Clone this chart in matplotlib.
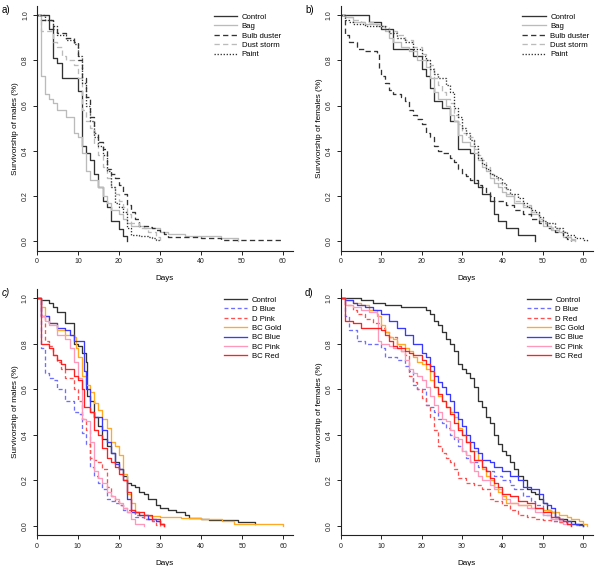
import matplotlib.pyplot as plt

plt.rcParams['font.family'] = ['Liberation Sans', 'DejaVu Sans']

# ---- panel a: males, dust types ----
a_control_t = [0, 3, 4, 5, 6, 10, 11, 12, 13, 14, 15, 16, 17, 18, 20, 21, 22]
a_control_s = [1.0, 0.94, 0.81, 0.79, 0.72, 0.665, 0.42, 0.39, 0.36, 0.30, 0.24, 0.18, 0.15, 0.09, 0.055, 0.025, 0.0]
a_bag_t = [0, 1, 2, 3, 4, 5, 7, 9, 10, 11, 12, 13, 15, 16, 17, 18, 20, 21, 22, 23, 26, 30, 32, 36, 45, 49]
a_bag_s = [1.0, 0.73, 0.65, 0.63, 0.61, 0.58, 0.55, 0.48, 0.46, 0.39, 0.31, 0.27, 0.24, 0.20, 0.17, 0.14, 0.12, 0.10, 0.08, 0.07, 0.06, 0.04, 0.035, 0.025, 0.015, 0.0]
a_bulb_t = [0, 1, 4, 5, 7, 9, 10, 11, 12, 13, 14, 15, 16, 17, 18, 19, 20, 21, 22, 23, 24, 25, 27, 28, 29, 30, 31, 32, 40, 45, 60]
a_bulb_s = [1.0, 0.98, 0.94, 0.92, 0.90, 0.88, 0.80, 0.72, 0.64, 0.55, 0.48, 0.44, 0.41, 0.32, 0.30, 0.28, 0.25, 0.21, 0.16, 0.13, 0.10, 0.07, 0.065, 0.06, 0.05, 0.04, 0.035, 0.02, 0.015, 0.006, 0.006]
a_dust_t = [0, 1, 4, 5, 6, 7, 9, 10, 11, 12, 13, 14, 15, 16, 17, 18, 19, 20, 21, 22, 23, 25, 27, 29, 30]
a_dust_s = [1.0, 0.93, 0.88, 0.86, 0.82, 0.80, 0.78, 0.72, 0.58, 0.53, 0.50, 0.43, 0.38, 0.33, 0.28, 0.24, 0.21, 0.18, 0.15, 0.12, 0.08, 0.06, 0.04, 0.02, 0.0]
a_paint_t = [0, 2, 4, 5, 7, 9, 10, 11, 12, 13, 14, 15, 16, 17, 18, 19, 20, 21, 22, 23, 25, 27, 28, 29, 30]
a_paint_s = [1.0, 0.98, 0.95, 0.91, 0.89, 0.87, 0.82, 0.70, 0.60, 0.53, 0.46, 0.42, 0.38, 0.31, 0.24, 0.17, 0.15, 0.13, 0.06, 0.03, 0.025, 0.02, 0.015, 0.008, 0.0]

# ---- panel b: females, dust types ----
b_control_t = [0, 7, 10, 13, 18, 20, 21, 22, 23, 25, 27, 29, 32, 33, 34, 35, 37, 38, 39, 41, 44, 48]
b_control_s = [1.0, 0.97, 0.94, 0.85, 0.82, 0.76, 0.73, 0.68, 0.62, 0.59, 0.53, 0.41, 0.39, 0.26, 0.24, 0.21, 0.18, 0.12, 0.09, 0.06, 0.03, 0.0]
b_bag_t = [0, 1, 3, 6, 9, 11, 12, 13, 15, 17, 19, 21, 22, 23, 24, 26, 27, 28, 29, 30, 32, 33, 34, 35, 36, 37, 38, 39, 40, 41, 43, 45, 47, 49, 50, 52, 54, 55, 57, 58]
b_bag_s = [1.0, 0.99, 0.97, 0.96, 0.95, 0.93, 0.90, 0.88, 0.86, 0.84, 0.80, 0.77, 0.72, 0.66, 0.63, 0.60, 0.56, 0.53, 0.47, 0.44, 0.42, 0.39, 0.36, 0.33, 0.31, 0.28, 0.26, 0.24, 0.22, 0.20, 0.17, 0.15, 0.12, 0.09, 0.07, 0.05, 0.04, 0.02, 0.01, 0.0]
b_bulb_t = [0, 1, 2, 4, 6, 9, 9.5, 10, 11, 12, 13, 15, 16, 17, 18, 19, 20, 21, 22, 23, 24, 25, 27, 28, 29, 30, 31, 32, 34, 35, 36, 37, 38, 41, 43, 45, 47, 49, 51, 53, 55, 56, 57]
b_bulb_s = [1.0, 0.91, 0.88, 0.85, 0.84, 0.83, 0.76, 0.73, 0.70, 0.67, 0.65, 0.64, 0.62, 0.58, 0.56, 0.54, 0.52, 0.48, 0.46, 0.42, 0.40, 0.39, 0.37, 0.35, 0.32, 0.30, 0.29, 0.27, 0.25, 0.24, 0.22, 0.20, 0.18, 0.16, 0.14, 0.12, 0.10, 0.08, 0.06, 0.04, 0.02, 0.01, 0.0]
b_dust_t = [0, 1, 3, 5, 8, 10, 12, 14, 16, 18, 20, 21, 22, 23, 24, 25, 26, 27, 28, 29, 30, 31, 33, 34, 35, 36, 37, 38, 39, 40, 41, 43, 45, 47, 49, 50, 52, 54, 56, 57, 58]
b_dust_s = [1.0, 0.99, 0.98, 0.97, 0.96, 0.95, 0.93, 0.91, 0.89, 0.86, 0.83, 0.80, 0.78, 0.72, 0.69, 0.66, 0.63, 0.61, 0.56, 0.52, 0.48, 0.46, 0.41, 0.38, 0.36, 0.33, 0.30, 0.28, 0.26, 0.24, 0.21, 0.18, 0.16, 0.13, 0.10, 0.08, 0.06, 0.04, 0.02, 0.005, 0.0]
b_paint_t = [0, 1, 2, 3, 6, 11, 12, 14, 16, 18, 20, 21, 22, 23, 24, 26, 27, 28, 29, 30, 31, 32, 33, 34, 35, 36, 37, 38, 39, 40, 41, 42, 44, 45, 46, 47, 48, 49, 50, 51, 53, 55, 56, 58, 60, 61]
b_paint_s = [1.0, 0.98, 0.97, 0.96, 0.95, 0.94, 0.92, 0.90, 0.88, 0.85, 0.82, 0.80, 0.76, 0.74, 0.72, 0.69, 0.66, 0.59, 0.55, 0.50, 0.48, 0.45, 0.42, 0.37, 0.34, 0.32, 0.30, 0.29, 0.28, 0.26, 0.23, 0.21, 0.19, 0.17, 0.15, 0.14, 0.13, 0.11, 0.09, 0.08, 0.06, 0.04, 0.03, 0.015, 0.005, 0.0]

# ---- panel c: males, colours ----
c_control_t = [0, 1, 3, 4, 5, 7, 9, 10, 11, 12, 12.3, 13, 14, 15, 16, 17, 18, 19, 20, 21, 22, 23, 24, 25, 26, 27, 29, 30, 32, 34, 36, 37, 40, 42, 49, 53]
c_control_s = [1.0, 0.99, 0.98, 0.96, 0.94, 0.89, 0.80, 0.79, 0.76, 0.72, 0.57, 0.55, 0.48, 0.44, 0.38, 0.35, 0.32, 0.28, 0.25, 0.22, 0.19, 0.18, 0.17, 0.15, 0.14, 0.12, 0.09, 0.08, 0.07, 0.06, 0.05, 0.035, 0.03, 0.025, 0.015, 0.01]
c_dblue_t = [0, 1, 2, 3, 4, 5, 7, 9, 10, 11, 12, 13, 14, 15, 16, 17, 18, 19, 20, 21, 22, 24, 26, 28, 30, 31]
c_dblue_s = [1.0, 0.78, 0.67, 0.65, 0.64, 0.60, 0.55, 0.50, 0.49, 0.41, 0.36, 0.26, 0.22, 0.19, 0.16, 0.12, 0.11, 0.10, 0.09, 0.07, 0.06, 0.04, 0.03, 0.02, 0.01, 0.0]
c_dpink_t = [0, 1, 2, 3, 4, 5, 6, 7, 9, 10, 11, 12, 13, 14, 15, 16, 17, 18, 19, 20, 21, 22, 24, 26, 28, 29, 30]
c_dpink_s = [1.0, 0.92, 0.81, 0.79, 0.75, 0.72, 0.69, 0.65, 0.60, 0.55, 0.47, 0.42, 0.30, 0.29, 0.28, 0.25, 0.17, 0.13, 0.11, 0.09, 0.08, 0.07, 0.05, 0.03, 0.02, 0.005, 0.0]
c_gold_t = [0, 1, 2, 3, 5, 7, 9, 9.5, 10, 11, 12, 13, 14, 15, 16, 17, 18, 19, 20, 21, 22, 23, 24, 25, 27, 30, 35, 40, 45, 48, 55, 60]
c_gold_s = [1.0, 0.96, 0.92, 0.89, 0.86, 0.84, 0.83, 0.78, 0.74, 0.66, 0.62, 0.59, 0.54, 0.51, 0.47, 0.43, 0.37, 0.35, 0.31, 0.23, 0.14, 0.10, 0.06, 0.05, 0.045, 0.04, 0.035, 0.03, 0.02, 0.01, 0.008, 0.0]
c_bblue_t = [0, 1, 3, 5, 7, 8, 9, 11, 11.5, 12, 13, 14, 16, 17, 18, 19, 20, 21, 22, 23, 25, 27, 29, 30, 31]
c_bblue_s = [1.0, 0.92, 0.89, 0.87, 0.86, 0.84, 0.81, 0.81, 0.68, 0.60, 0.50, 0.48, 0.42, 0.37, 0.32, 0.27, 0.25, 0.20, 0.12, 0.06, 0.05, 0.03, 0.02, 0.01, 0.0]
c_bpink_t = [0, 1, 2, 3, 5, 7, 8, 9, 10, 11, 12, 13, 14, 15, 16, 17, 18, 19, 20, 21, 22, 23, 24, 26]
c_bpink_s = [1.0, 0.92, 0.90, 0.88, 0.84, 0.82, 0.78, 0.72, 0.65, 0.47, 0.46, 0.37, 0.24, 0.21, 0.19, 0.15, 0.13, 0.12, 0.10, 0.08, 0.06, 0.03, 0.01, 0.0]
c_bred_t = [0, 1, 3, 4, 5, 6, 7, 9, 10, 11, 11.5, 13, 14, 15, 16, 17, 18, 19, 20, 21, 22, 23, 24, 26, 28, 30, 31]
c_bred_s = [1.0, 0.80, 0.78, 0.75, 0.73, 0.71, 0.69, 0.66, 0.64, 0.60, 0.52, 0.50, 0.42, 0.40, 0.34, 0.30, 0.28, 0.26, 0.23, 0.20, 0.15, 0.07, 0.06, 0.05, 0.03, 0.01, 0.0]

# ---- panel d: females, colours ----
d_control_t = [0, 5, 8, 11, 15, 21, 22, 23, 24, 25, 26, 27, 28, 29, 30, 31, 32, 33, 34, 35, 36, 37, 38, 39, 40, 41, 42, 43, 44, 45, 46, 47, 48, 49, 50, 51, 52, 53, 54, 56, 58, 60]
d_control_s = [1.0, 0.99, 0.98, 0.97, 0.96, 0.95, 0.93, 0.90, 0.88, 0.85, 0.82, 0.80, 0.77, 0.71, 0.69, 0.67, 0.65, 0.61, 0.55, 0.52, 0.48, 0.45, 0.40, 0.36, 0.33, 0.31, 0.28, 0.25, 0.22, 0.20, 0.16, 0.15, 0.14, 0.12, 0.10, 0.07, 0.06, 0.04, 0.03, 0.02, 0.01, 0.0]
d_dblue_t = [0, 1, 2, 4, 6, 10, 11, 14, 16, 17, 18, 19, 21, 22, 23, 24, 25, 26, 27, 28, 29, 30, 31, 32, 34, 36, 38, 40, 42, 43, 45, 47, 48, 50, 52, 54, 56, 58, 60]
d_dblue_s = [1.0, 0.92, 0.86, 0.81, 0.80, 0.78, 0.74, 0.73, 0.70, 0.68, 0.62, 0.60, 0.53, 0.52, 0.50, 0.47, 0.45, 0.43, 0.40, 0.38, 0.35, 0.33, 0.30, 0.28, 0.26, 0.24, 0.22, 0.20, 0.18, 0.16, 0.13, 0.11, 0.09, 0.05, 0.02, 0.015, 0.01, 0.005, 0.0]
d_dred_t = [0, 1, 3, 4, 6, 8, 10, 11, 12, 14, 15, 16, 17, 18, 19, 20, 21, 22, 23, 24, 25, 26, 27, 28, 29, 31, 33, 35, 37, 38, 40, 42, 44, 46, 48, 50, 52, 54, 56, 57]
d_dred_s = [1.0, 0.97, 0.95, 0.93, 0.91, 0.89, 0.87, 0.85, 0.83, 0.79, 0.77, 0.75, 0.66, 0.63, 0.60, 0.56, 0.53, 0.48, 0.42, 0.35, 0.32, 0.30, 0.28, 0.25, 0.21, 0.19, 0.18, 0.16, 0.12, 0.11, 0.09, 0.07, 0.05, 0.04, 0.03, 0.025, 0.02, 0.015, 0.01, 0.0]
d_gold_t = [0, 1, 3, 5, 7, 9, 10, 11, 12, 13, 14, 16, 17, 18, 19, 20, 21, 22, 23, 24, 25, 26, 27, 28, 29, 30, 31, 32, 34, 35, 36, 37, 38, 39, 40, 41, 44, 47, 50, 52, 54, 56, 57, 59, 60, 61]
d_gold_s = [1.0, 0.99, 0.98, 0.97, 0.95, 0.92, 0.88, 0.85, 0.83, 0.82, 0.80, 0.78, 0.77, 0.74, 0.72, 0.71, 0.69, 0.64, 0.61, 0.57, 0.55, 0.52, 0.50, 0.48, 0.43, 0.40, 0.37, 0.33, 0.29, 0.25, 0.22, 0.20, 0.17, 0.15, 0.13, 0.10, 0.09, 0.08, 0.07, 0.06, 0.05, 0.04, 0.03, 0.02, 0.01, 0.0]
d_bblue_t = [0, 1, 3, 4, 6, 8, 10, 12, 14, 16, 18, 20, 21, 22, 23, 24, 25, 26, 27, 28, 29, 30, 31, 32, 33, 34, 35, 37, 38, 40, 42, 44, 45, 47, 49, 50, 51, 52, 53, 54, 55, 57, 59, 60]
d_bblue_s = [1.0, 0.99, 0.98, 0.97, 0.96, 0.95, 0.93, 0.90, 0.87, 0.84, 0.80, 0.76, 0.74, 0.70, 0.66, 0.63, 0.61, 0.58, 0.55, 0.50, 0.47, 0.44, 0.40, 0.37, 0.34, 0.32, 0.29, 0.28, 0.26, 0.24, 0.22, 0.20, 0.17, 0.16, 0.14, 0.10, 0.09, 0.08, 0.04, 0.03, 0.02, 0.01, 0.005, 0.0]
d_bpink_t = [0, 1, 3, 5, 7, 9, 9.3, 10, 12, 13, 15, 16, 17, 18, 19, 20, 21, 22, 23, 24, 25, 26, 27, 28, 29, 30, 31, 32, 33, 34, 35, 37, 38, 40, 42, 44, 46, 48, 50, 52, 54, 55, 57]
d_bpink_s = [1.0, 0.97, 0.96, 0.95, 0.94, 0.93, 0.81, 0.80, 0.79, 0.78, 0.77, 0.73, 0.69, 0.67, 0.66, 0.64, 0.61, 0.57, 0.53, 0.50, 0.47, 0.46, 0.42, 0.39, 0.38, 0.33, 0.31, 0.28, 0.24, 0.22, 0.20, 0.18, 0.16, 0.12, 0.10, 0.09, 0.08, 0.06, 0.05, 0.03, 0.02, 0.01, 0.0]
d_bred_t = [0, 1, 3, 5, 10, 11, 12, 13, 14, 16, 17, 18, 20, 21, 22, 23, 24, 25, 26, 27, 28, 29, 30, 31, 32, 33, 35, 36, 37, 38, 39, 40, 42, 44, 46, 48, 50, 52, 54, 55, 56, 57]
d_bred_s = [1.0, 0.90, 0.89, 0.87, 0.86, 0.84, 0.81, 0.79, 0.78, 0.77, 0.76, 0.75, 0.73, 0.71, 0.68, 0.61, 0.58, 0.55, 0.52, 0.49, 0.45, 0.42, 0.40, 0.37, 0.33, 0.29, 0.26, 0.24, 0.21, 0.19, 0.17, 0.14, 0.13, 0.11, 0.10, 0.08, 0.06, 0.04, 0.03, 0.02, 0.01, 0.0]

dust_labels = ['Control', 'Bag', 'Bulb duster', 'Dust storm', 'Paint']
c_labels = ['Control', 'D Blue', 'D Pink', 'BC Gold', 'BC Blue', 'BC Pink', 'BC Red']
d_labels = ['Control', 'D Blue', 'D Red', 'BC Gold', 'BC Blue', 'BC Pink', 'BC Red']

dark = '#333333'
light = '#bbbbbb'
dust_styles = [(dark, '-'), (light, '-'), (dark, (0, (4, 2.5))), (light, (0, (4, 2.5))), (dark, (0, (1, 1.3)))]
col_styles = [(dark, '-'), ('#6f6fff', (0, (3, 2))), ('#ff5050', (0, (3, 2))), ('#ffaa22', '-'),
              ('#3a3aff', '-'), ('#ff99bb', '-'), ('#ff2020', '-')]

fig = plt.figure(figsize=(6, 5.66), dpi=100)
W, H = 600.0, 566.0


def make_ax(l, t, r, b):
    return fig.add_axes([l / W, (H - b) / H, (r - l) / W, (b - t) / H])


def style(ax, ylab):
    ax.set_xlim(0, 62.4)
    ax.set_ylim(-0.04, 1.04)
    for s in ['top', 'right']:
        ax.spines[s].set_visible(False)
    for s in ['left', 'bottom']:
        ax.spines[s].set_linewidth(0.8)
        ax.spines[s].set_color('#222222')
    ax.set_xticks([0, 10, 20, 30, 40, 50, 60])
    ax.set_yticks([0.0, 0.2, 0.4, 0.6, 0.8, 1.0])
    ax.set_yticklabels(['0.0', '0.2', '0.4', '0.6', '0.8', '1.0'], rotation=90, va='center')
    ax.tick_params(direction='out', length=3.2, width=0.7, labelsize=5, pad=2.5, colors='#222222')
    ax.set_xlabel('Days', fontsize=5.8, labelpad=7)
    ax.set_ylabel(ylab, fontsize=5.9, labelpad=2)


def draw(ax, curves, styles, labels, bbox):
    for (t, s), (c, ls), lab in zip(curves, styles, labels):
        ax.step(t, s, where='post', color=c, linestyle=ls, linewidth=0.95, label=lab)
    ax.legend(loc='upper left', bbox_to_anchor=bbox, frameon=False, fontsize=5.6,
              handlelength=3.0, handletextpad=0.6, labelspacing=0.25, borderpad=0, borderaxespad=0)


ax_a = make_ax(37, 6, 292.8, 250.5)
ax_b = make_ax(340.7, 6, 592.8, 250.5)
ax_c = make_ax(36.7, 289, 293.2, 535)
ax_d = make_ax(340.7, 289, 592.8, 535)

draw(ax_a, [(a_control_t, a_control_s), (a_bag_t, a_bag_s), (a_bulb_t, a_bulb_s),
            (a_dust_t, a_dust_s), (a_paint_t, a_paint_s)], dust_styles, dust_labels, (0.69, 0.97))
draw(ax_b, [(b_control_t, b_control_s), (b_bag_t, b_bag_s), (b_bulb_t, b_bulb_s),
            (b_dust_t, b_dust_s), (b_paint_t, b_paint_s)], dust_styles, dust_labels, (0.72, 0.97))
draw(ax_c, [(c_control_t, c_control_s), (c_dblue_t, c_dblue_s), (c_dpink_t, c_dpink_s),
            (c_gold_t, c_gold_s), (c_bblue_t, c_bblue_s), (c_bpink_t, c_bpink_s),
            (c_bred_t, c_bred_s)], col_styles, c_labels, (0.73, 0.97))
draw(ax_d, [(d_control_t, d_control_s), (d_dblue_t, d_dblue_s), (d_dred_t, d_dred_s),
            (d_gold_t, d_gold_s), (d_bblue_t, d_bblue_s), (d_bpink_t, d_bpink_s),
            (d_bred_t, d_bred_s)], col_styles, d_labels, (0.74, 0.97))

style(ax_a, 'Survivorship of males (%)')
style(ax_b, 'Survivorship of females (%)')
style(ax_c, 'Survivorship of males (%)')
style(ax_d, 'Survivorship of females (%)')

fig.text(2 / W, 1 - 10 / H, 'a)', fontsize=7, va='center')
fig.text(305 / W, 1 - 10 / H, 'b)', fontsize=7, va='center')
fig.text(2 / W, 1 - 293 / H, 'c)', fontsize=7, va='center', style='italic')
fig.text(305 / W, 1 - 293 / H, 'd)', fontsize=7, va='center')

fig.savefig('out.png', dpi=100)
